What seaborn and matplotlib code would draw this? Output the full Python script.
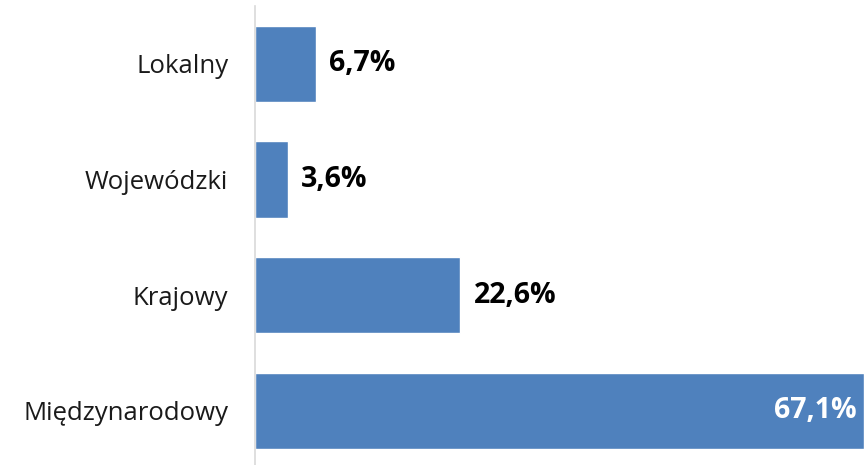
import matplotlib
matplotlib.use('Agg')
import matplotlib.pyplot as plt
import seaborn as sns
import pandas as pd

categories = ['Lokalny', 'Wojewódzki', 'Krajowy', 'Międzynarodowy']
shares = [6.7, 3.6, 22.6, 67.1]
value_labels = ['6,7%', '3,6%', '22,6%', '67,1%']

sns.set_style('white')
plt.rcParams['font.family'] = ['Open Sans', 'DejaVu Sans']

df = pd.DataFrame({'kategoria': categories, 'udzial': shares})

fig = plt.figure(figsize=(8.64, 4.65), dpi=100)
ax = fig.add_axes([0.295, -0.008, 0.705, 0.995])
sns.barplot(data=df, x='udzial', y='kategoria', color='#4F81BD', saturation=1,
            width=0.66, ax=ax)

ax.set_xlim(0, 67.1)
ax.set_ylim(3.5, -0.5)
ax.set_xlabel('')
ax.set_ylabel('')
ax.set_xticks([])
for side in ['top', 'right', 'bottom']:
    ax.spines[side].set_visible(False)
ax.spines['left'].set_color('#D9D9D9')
ax.spines['left'].set_linewidth(1.2)
ax.tick_params(axis='y', length=0, pad=19, labelsize=18.5, labelcolor='#1a1a1a')

for i, (v, lab) in enumerate(zip(shares, value_labels)):
    if v > 50:
        ax.text(v - 0.8, i, lab, ha='right', va='center', color='white',
                fontsize=20.5, fontweight='bold')
    else:
        ax.text(v + 1.5, i, lab, ha='left', va='center', color='black',
                fontsize=20.5, fontweight='bold')

fig.savefig('out.png', dpi=100)
